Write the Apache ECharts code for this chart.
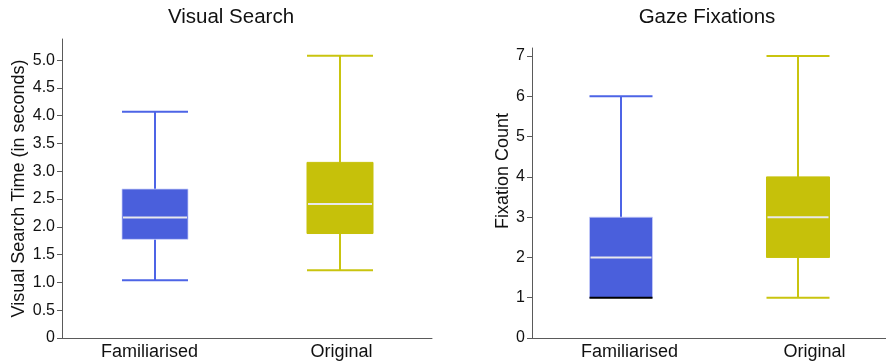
<!DOCTYPE html>
<html>
<head>
<meta charset="utf-8">
<script src="https://cdn.jsdelivr.net/npm/echarts@6/dist/echarts.min.js"></script>
<style>html,body{margin:0;padding:0;background:#fff}#c{width:886px;height:364px}</style>
</head>
<body>
<div id="c"></div>
<script>
// Data
const categories = ['Familiarised', 'Original'];
// [min, Q1, median, Q3, max]
const searchFamiliarised = [1.04, 1.775, 2.17, 2.68, 4.07];
const searchOriginal = [1.22, 1.88, 2.41, 3.16, 5.08];
const fixFamiliarised = [1, 1, 2, 3, 6];
const fixOriginal = [1, 2, 3, 4, 7];
const searchTicks = [0, 0.5, 1.0, 1.5, 2.0, 2.5, 3.0, 3.5, 4.0, 4.5, 5.0];
const fixTicks = [0, 1, 2, 3, 4, 5, 6, 7];
const titles = ['Visual Search', 'Gaze Fixations'];
const yNames = ['Visual Search Time (in seconds)', 'Fixation Count'];

const FONT = '"Liberation Sans", Arial, Helvetica, sans-serif';
const styles = [
  { fill: '#4a5fdc', line: '#4d64e6', border: 'rgba(200,205,250,0.75)' },
  { fill: '#c6c10a', line: '#c9c40f', border: '#c6c10a' }
];
// horizontal label nudges per chart / category: [padLeft, padRight]
const labelPads = [
  [[0, 10], [4, 0]],
  [[18, 0], [34, 0]]
];

function renderBox(params, api) {
  const idx = api.value(0);
  const st = styles[idx];
  const c = (v) => api.coord([idx, v]);
  const pMin = c(api.value(1)), pQ1 = c(api.value(2)), pMed = c(api.value(3)),
        pQ3 = c(api.value(4)), pMax = c(api.value(5));
  const cx = Math.round(pMin[0]);
  const bw = Math.round(api.size([1, 0])[0] * 0.357);
  const x0 = cx - bw / 2, x1 = cx + bw / 2;
  const lw = 2;
  const capLow = api.value(1) === api.value(2) ? '#000' : st.line;
  return {
    type: 'group',
    children: [
      { type: 'line', shape: { x1: cx, y1: pMax[1], x2: cx, y2: pQ3[1] }, style: { stroke: st.line, lineWidth: lw } },
      { type: 'line', shape: { x1: cx, y1: pQ1[1], x2: cx, y2: pMin[1] }, style: { stroke: st.line, lineWidth: lw } },
      { type: 'line', shape: { x1: x0, y1: pMax[1], x2: x1, y2: pMax[1] }, style: { stroke: st.line, lineWidth: lw } },
      { type: 'rect', shape: { x: x0, y: pQ3[1], width: bw, height: pQ1[1] - pQ3[1] }, style: { fill: st.fill, stroke: st.border, lineWidth: 1 } },
      { type: 'line', shape: { x1: x0, y1: pMin[1], x2: x1, y2: pMin[1] }, style: { stroke: capLow, lineWidth: lw } },
      { type: 'line', shape: { x1: x0 + 1, y1: pMed[1], x2: x1 - 1, y2: pMed[1] }, style: { stroke: '#e8e8ec', lineWidth: 2 } }
    ]
  };
}

function toData(rows) {
  return rows.map((r, i) => [i].concat(r));
}

const axisLineStyle = { color: '#5a5a5a', width: 1 };

function catRich(g) {
  const rich = {};
  labelPads[g].forEach((p, i) => {
    rich['c' + i] = { fontFamily: FONT, fontSize: 18, color: '#111', padding: [0, p[1], 0, p[0]] };
  });
  return rich;
}

const option = {
  animation: false,
  backgroundColor: '#fff',
  title: [
    { text: titles[0], left: 226, top: 2, textAlign: 'center', textStyle: { fontFamily: FONT, fontSize: 20.5, fontWeight: 'normal', color: '#111' } },
    { text: titles[1], left: 702, top: 2, textAlign: 'center', textStyle: { fontFamily: FONT, fontSize: 20.5, fontWeight: 'normal', color: '#111' } }
  ],
  grid: [
    { left: 62, top: 39, width: 370, bottom: 26 },
    { left: 532, top: 48, width: 362, bottom: 26 }
  ],
  xAxis: [0, 1].map(g => ({
    type: 'category', gridIndex: g, data: categories,
    axisLine: { lineStyle: axisLineStyle },
    axisTick: { show: false },
    axisLabel: {
      fontFamily: FONT, fontSize: 18, color: '#111', margin: 5,
      formatter: (v, i) => '{c' + i + '|' + v + '}',
      rich: catRich(g)
    }
  })),
  yAxis: [
    {
      type: 'value', gridIndex: 0, min: 0, max: 5.38,
      name: yNames[0], nameLocation: 'middle', nameGap: 34,
      nameTextStyle: { fontFamily: FONT, fontSize: 18, color: '#111' },
      axisLine: { show: true, lineStyle: axisLineStyle },
      axisTick: { show: true, length: 5, customValues: searchTicks, lineStyle: axisLineStyle },
      axisLabel: { customValues: searchTicks, fontFamily: FONT, fontSize: 16, color: '#111', margin: 7,
        formatter: v => v === 0 ? '0' : v.toFixed(1) },
      splitLine: { show: false }
    },
    {
      type: 'value', gridIndex: 1, min: 0, max: 7.2,
      name: yNames[1], nameLocation: 'middle', nameGap: 20,
      nameTextStyle: { fontFamily: FONT, fontSize: 18, color: '#111', padding: [0, 0, 0, 44] },
      axisLine: { show: true, lineStyle: axisLineStyle },
      axisTick: { show: true, length: 5, customValues: fixTicks, lineStyle: axisLineStyle },
      axisLabel: { customValues: fixTicks, fontFamily: FONT, fontSize: 16, color: '#111', margin: 7 },
      splitLine: { show: false }
    }
  ],
  series: [
    {
      type: 'custom', xAxisIndex: 0, yAxisIndex: 0,
      renderItem: renderBox,
      encode: { x: 0, y: [1, 2, 3, 4, 5] },
      data: toData([searchFamiliarised, searchOriginal])
    },
    {
      type: 'custom', xAxisIndex: 1, yAxisIndex: 1,
      renderItem: renderBox,
      encode: { x: 0, y: [1, 2, 3, 4, 5] },
      data: toData([fixFamiliarised, fixOriginal])
    }
  ]
};

const chart = echarts.init(document.getElementById('c'), null, { renderer: 'canvas' });
chart.setOption(option);
</script>
</body>
</html>
